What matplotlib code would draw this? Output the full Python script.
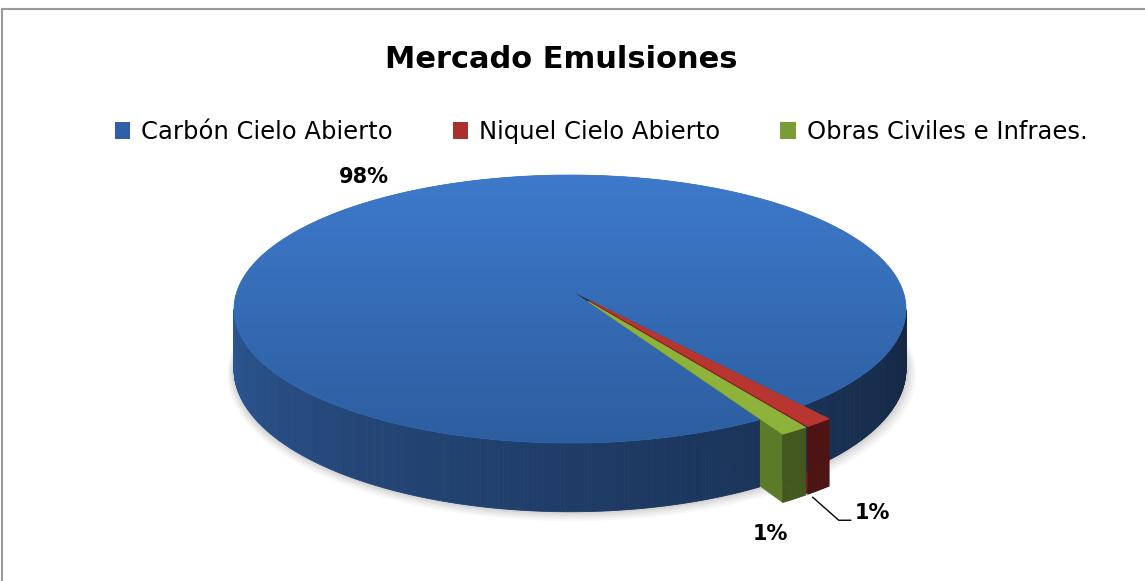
import numpy as np
import matplotlib
matplotlib.use("Agg")
import matplotlib.pyplot as plt
from matplotlib.patches import Polygon, Patch, Rectangle
from matplotlib.lines import Line2D

# Datos
categorias = ["Carbón Cielo Abierto", "Niquel Cielo Abierto", "Obras Civiles e Infraes."]
valores = [97.6, 1.2, 1.2]
titulo = "Mercado Emulsiones"

# Estilo
top_colores = ["#3a6fbd", "#b83530", "#8db33a"]
pared_colores = [None, "#4e1414", "#43581f"]
cara_colores = ["#1c3358", "#6e1c1c", "#5c7b2a"]
leyenda_colores = ["#2f5fa6", "#a8302d", "#7a9c34"]
explode = [0.0, 0.10, 0.10]
inicio = -60.0  # angulo (grados) donde empieza la primera porcion, sentido horario

W, H = 1145, 581
CX, CY = 570.0, 290.0
RX, RY = 332.6, 131.3
K = 0.1418
DEPTH = 59.0


def proj(u, v, z):
    s = 1.0 / (1.0 + K * v)
    return CX + RX * u * s, CY + (-RY * v + DEPTH * z) * s


fig = plt.figure(figsize=(W / 100, H / 100), dpi=100)
ax = fig.add_axes([0, 0, 1, 1])
ax.set_xlim(0, W)
ax.set_ylim(H, 0)
ax.axis("off")

# angulos de cada porcion (sentido horario como Excel)
fr = np.array(valores) / sum(valores) * 360.0
cum = np.concatenate([[0], np.cumsum(fr)])
porciones = []
for i in range(len(valores)):
    a1 = (inicio - cum[i + 1]) % 360.0
    a2 = a1 + fr[i]
    mid = np.radians((a1 + a2) / 2)
    off = (explode[i] * np.cos(mid), explode[i] * np.sin(mid))
    porciones.append((a1, a2, off))


def arco(a1, a2, r=1.0, n=None):
    if n is None:
        n = max(4, int((a2 - a1) * 2))
    t = np.radians(np.linspace(a1, a2, n))
    return r * np.cos(t), r * np.sin(t)


def color_pared_azul(th):
    t = ((np.degrees(th) % 360.0) - 180.0) / 180.0
    t = np.clip(t, 0, 1)
    c0 = np.array([47, 92, 156]) / 255
    c1 = np.array([19, 37, 64]) / 255
    return c0 + (c1 - c0) * t ** 0.8


def caras_radiales(i):
    a1, a2, (ox, oy) = porciones[i]
    for a, normal in ((a1, a1 - 90), (a2, a2 + 90)):
        if np.sin(np.radians(normal)) < 0:
            ar = np.radians(a)
            pts = [proj(ox, oy, 0), proj(ox + np.cos(ar), oy + np.sin(ar), 0),
                   proj(ox + np.cos(ar), oy + np.sin(ar), 1), proj(ox, oy, 1)]
            ax.add_patch(Polygon(pts, closed=True, fc=cara_colores[i], ec=cara_colores[i], lw=0.5, zorder=2))


def pared_exterior(i):
    a1, a2, (ox, oy) = porciones[i]
    ths = np.radians(np.append(np.arange(a1, a2, 0.5), a2))
    for t0, t1 in zip(ths[:-1], ths[1:]):
        tm = (t0 + t1) / 2
        if np.sin(tm) >= -K:
            continue
        p = [proj(ox + np.cos(t0), oy + np.sin(t0), 0), proj(ox + np.cos(t1), oy + np.sin(t1), 0),
             proj(ox + np.cos(t1), oy + np.sin(t1), 1), proj(ox + np.cos(t0), oy + np.sin(t0), 1)]
        c = color_pared_azul(tm) if i == 0 else pared_colores[i]
        ax.add_patch(Polygon(p, closed=True, fc=c, ec=c, lw=0.6, zorder=2))


def tapa(i, zorder):
    a1, a2, (ox, oy) = porciones[i]
    u, v = arco(a1, a2)
    xs, ys = proj(np.concatenate([[0], u]) + ox, np.concatenate([[0], v]) + oy, 0)
    poly = Polygon(np.column_stack([xs, ys]), closed=True, fc=top_colores[i], ec=top_colores[i], lw=0.5, zorder=zorder)
    ax.add_patch(poly)
    if i == 0:
        grad = np.linspace(0, 1, 256).reshape(-1, 1)
        c0 = np.array([62, 122, 204]) / 255
        c1 = np.array([44, 93, 158]) / 255
        img = c0 + (c1 - c0) * grad[..., None]
        img = np.repeat(img, 2, axis=1)
        im = ax.imshow(img, extent=(CX - RX * 1.1, CX + RX * 1.1, CY + 160, CY - 120), aspect="auto", zorder=zorder + 0.1)
        im.set_clip_path(poly)


# sombra suave bajo el pastel
u, v = arco(0, 360, 1.0, 360)
for k, a in enumerate([0.06, 0.08, 0.10, 0.12]):
    d = 6 - 1.5 * k
    xs, ys = proj(u * (1 + 0.004 * d), v * (1 + 0.004 * d), 1)
    ax.fill(xs + d * 0.3, ys + d * 0.8, color="#808080", alpha=a, lw=0, zorder=1)

for i in range(len(valores)):
    caras_radiales(i)
for i in range(len(valores)):
    pared_exterior(i)
for i in range(len(valores)):
    tapa(i, 3 + i)

# etiquetas
etq = ["%.0f%%" % v for v in valores]
a1, a2, _ = porciones[0]
m = np.radians((a1 + a2) / 2)
x, y = proj(1.25 * np.cos(m), 1.25 * np.sin(m), 0)
ax.text(x - 2, y + 5, etq[0], ha="center", va="center", fontsize=15, fontweight="bold", zorder=6)

a1, a2, (ox, oy) = porciones[1]
m = np.radians((a1 + a2) / 2)
x, y = proj(ox + np.cos(m), oy + np.sin(m), 1)
x, y = x - 6, y + 6
ax.add_line(Line2D([x, x + 26, x + 38], [y + 1, y + 24, y + 24], color="black", lw=1, zorder=6))
ax.text(x + 60, y + 17, etq[1], ha="center", va="center", fontsize=15, fontweight="bold", zorder=6)

a1, a2, (ox, oy) = porciones[2]
m = np.radians((a1 + a2) / 2)
x, y = proj(ox + np.cos(m), oy + np.sin(m), 1)
ax.text(x - 24, y + 35, etq[2], ha="center", va="center", fontsize=15, fontweight="bold", zorder=6)

# titulo
fig.text(561 / W, 1 - 60 / H, titulo, ha="center", va="center", fontsize=22, fontweight="bold")

# leyenda
handles = [Patch(facecolor=c, edgecolor="none") for c in leyenda_colores]
fig.legend(handles, categorias, loc="center", bbox_to_anchor=(601 / W, 1 - 132 / H), ncol=3,
           frameon=False, fontsize=17.5, handlelength=0.65, handleheight=0.65, handletextpad=0.45,
           columnspacing=2.45)

# borde
fig.patches.append(Rectangle((2 / W, -0.1), 1.2, 1 - 9 / H + 0.1, transform=fig.transFigure,
                             fill=False, ec="#9a9a9a", lw=1.5))

fig.savefig("out.png", dpi=100)
